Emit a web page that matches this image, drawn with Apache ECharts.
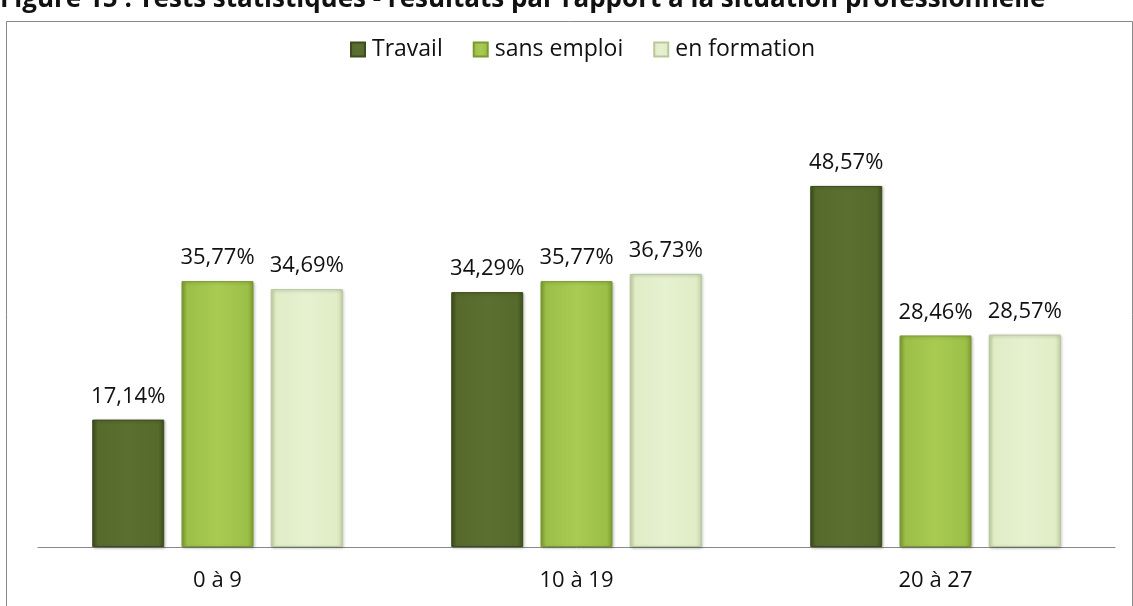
<!DOCTYPE html>
<html>
<head>
<meta charset="utf-8">
<script src="https://cdn.jsdelivr.net/npm/echarts@6/dist/echarts.min.js"></script>
<style>
  html, body { margin: 0; padding: 0; background: #fff; }
  #chart { width: 1133px; height: 606px; }
</style>
</head>
<body>
<div id="chart"></div>
<script>
var categories = ['0 à 9', '10 à 19', '20 à 27'];
var travail = [17.14, 34.29, 48.57];
var sansEmploi = [35.77, 35.77, 28.46];
var enFormation = [34.69, 36.73, 28.57];

var fontFamily = '"Open Sans", sans-serif';

function bevel(light, mid, dark) {
  return new echarts.graphic.LinearGradient(0, 0, 1, 0, [
    {offset: 0, color: dark},
    {offset: 0.08, color: mid},
    {offset: 0.5, color: light},
    {offset: 0.92, color: mid},
    {offset: 1, color: dark}
  ]);
}

function pct(p) {
  return p.value.toFixed(2).replace('.', ',') + '%';
}

function makeSeries(name, data, fill, border) {
  return {
    name: name,
    type: 'bar',
    data: data,
    barWidth: 72,
    barGap: '24%',
    itemStyle: {color: fill, borderColor: border, borderWidth: 1,
      shadowColor: 'rgba(0,0,0,0.25)', shadowBlur: 3, shadowOffsetX: 1, shadowOffsetY: 1},
    label: {show: true, position: 'top', distance: 12, formatter: pct,
      fontFamily: fontFamily, fontSize: 22, color: '#111'}
  };
}

var chart = echarts.init(document.getElementById('chart'));
chart.setOption({
  animation: false,
  graphic: [
    {type: 'text', left: 0, top: -13,
      style: {text: 'Figure 15 : Tests statistiques - résultats par rapport à la situation professionnelle',
        font: 'bold 26px ' + fontFamily, fill: '#111'}},
    {type: 'rect', left: 4, top: 19,
      shape: {width: 1126, height: 600},
      style: {fill: 'none', stroke: '#888', lineWidth: 1}}
  ],
  legend: {
    top: 33, left: 345, itemWidth: 14, itemHeight: 14, itemGap: 30,
    icon: 'rect',
    textStyle: {fontFamily: fontFamily, fontSize: 23, color: '#111', padding: [0, 0, 0, 2]},
    data: ['Travail', 'sans emploi', 'en formation']
  },
  grid: {left: 38, right: 18, top: 101, bottom: 59},
  xAxis: {
    type: 'category', data: categories,
    axisLine: {lineStyle: {color: '#888', width: 1}},
    axisTick: {show: false},
    axisLabel: {fontFamily: fontFamily, fontSize: 22, color: '#111', margin: 23}
  },
  yAxis: {type: 'value', min: 0, max: 60, show: false, splitLine: {show: false}},
  series: [
    makeSeries('Travail', travail, bevel('#5b6f30', '#566a2c', '#3f4f1d'), '#3d4c1c'),
    makeSeries('sans emploi', sansEmploi, bevel('#a9cb52', '#9cbf48', '#7e9e33'), '#7a9a30'),
    makeSeries('en formation', enFormation, bevel('#e6f1d0', '#e0edc6', '#c8d6aa'), '#b9c79d')
  ]
});
</script>
</body>
</html>
